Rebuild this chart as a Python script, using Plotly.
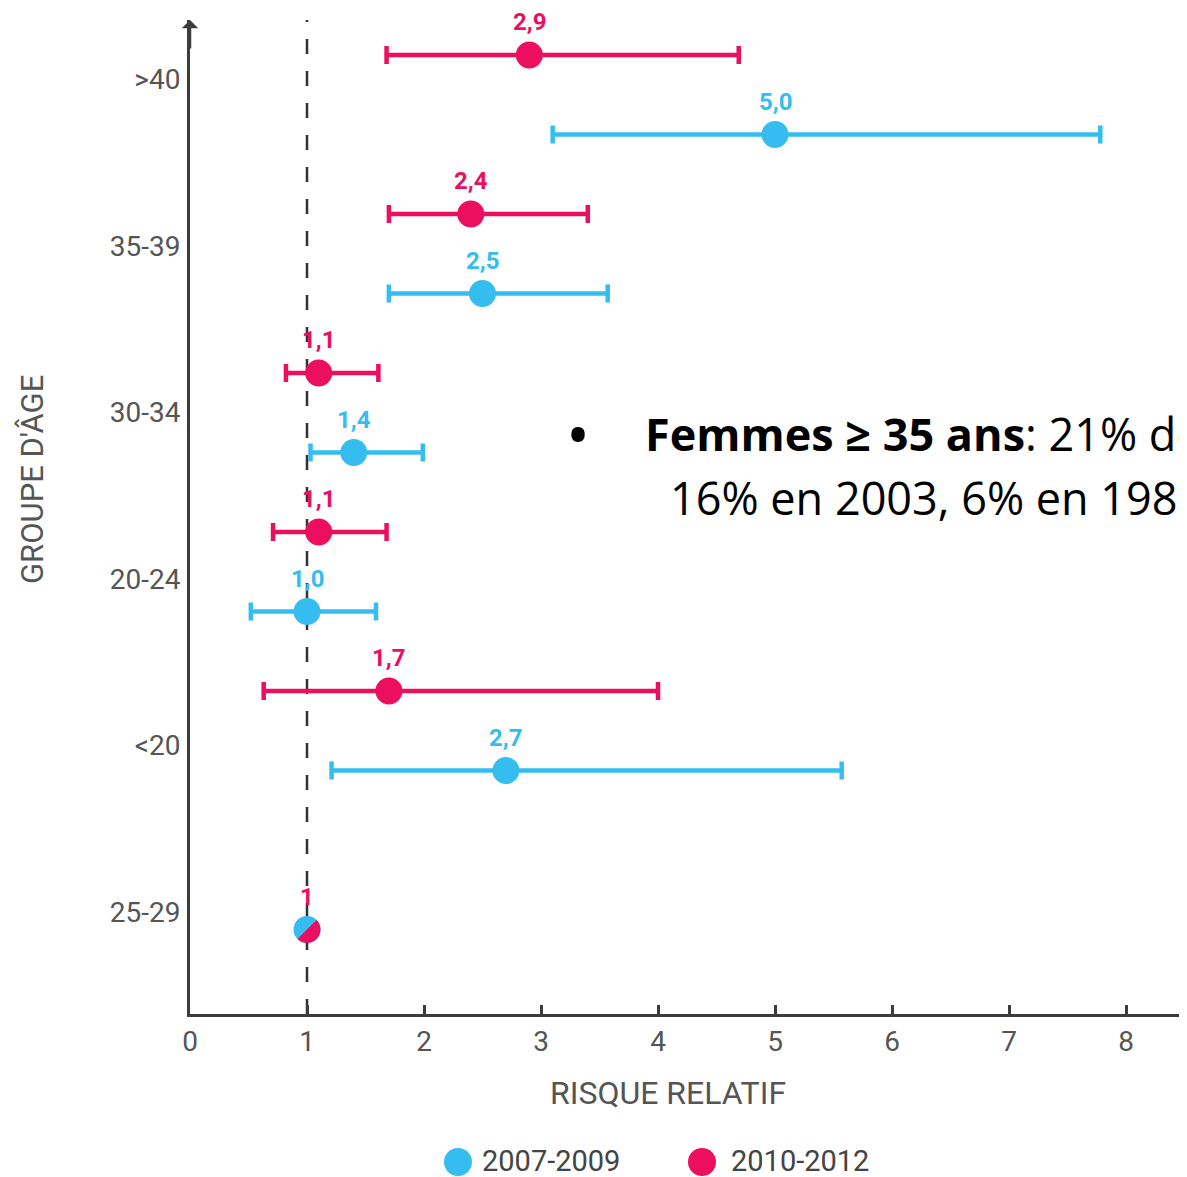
import math
import plotly.graph_objects as go

# ---------------- data ----------------
categories = [">40", "35-39", "30-34", "20-24", "<20", "25-29"]
# 2007-2009 (blue); last category is the reference (no interval)
blue_values = [5.0, 2.5, 1.4, 1.0, 2.7, 1.0]
blue_low = [3.1, 1.7, 1.03, 0.52, 1.21, None]
blue_high = [7.78, 3.57, 1.99, 1.59, 5.57, None]
# 2010-2012 (red)
red_values = [2.9, 2.4, 1.1, 1.1, 1.7, 1.0]
red_low = [1.68, 1.70, 0.82, 0.71, 0.63, None]
red_high = [4.69, 3.40, 1.61, 1.68, 4.0, None]
blue_labels = ["5,0", "2,5", "1,4", "1,0", "2,7", ""]
red_labels = ["2,9", "2,4", "1,1", "1,1", "1,7", "1"]
series_names = ["2007-2009", "2010-2012"]
x_ticks = [0, 1, 2, 3, 4, 5, 6, 7, 8]
ref_value = 1
bullet_line1 = "<b>Femmes ≥ 35 ans</b>: 21% de"
bullet_line2 = "16% en 2003, 6% en 198"

# ---------------- styles ----------------
BLUE = "#35BDF0"
RED = "#EC0E5F"
AXIS = "#3C3C3C"
GREY = "#555555"
COND = "Roboto, sans-serif"
TEXTFONT = "Open Sans, sans-serif"

OFF = 8  # page body margin
W, H = 1195, 1177
ML, MT = 190 - OFF, 20 - OFF
BOTTOM = 1014 - OFF
MR = 0
MB = H - BOTTOM
PW, PH = W - ML - MR, BOTTOM - MT
UNIT = 117.0
def px(xr):  # reference-image pixel x -> paper
    return (xr - OFF - ML) / PW
def py(yr):  # reference-image pixel y -> paper
    return (BOTTOM - (yr - OFF)) / PH

n = len(categories) - 1
red_rows = [2 * i for i in range(n)]
blue_rows = [2 * i + 1 for i in range(n)]
ref_row = 2 * n + 1
ROW = 79.5
ROW0 = 55 - OFF  # pixel of row 0 in figure

fig = go.Figure()

def add_series(vals, lows, highs, rows, color):
    fig.add_trace(go.Scatter(
        x=vals[:n], y=rows, mode="markers",
        marker=dict(size=27, color=color),
        error_x=dict(type="data", symmetric=False,
                     array=[h - v for h, v in zip(highs[:n], vals[:n])],
                     arrayminus=[v - l for l, v in zip(lows[:n], vals[:n])],
                     color=color, thickness=4.5, width=9),
        showlegend=False, hoverinfo="skip"))

add_series(blue_values, blue_low, blue_high, blue_rows, BLUE)
add_series(red_values, red_low, red_high, red_rows, RED)

# reference point (shared)
fig.add_trace(go.Scatter(x=[blue_values[-1]], y=[ref_row], mode="markers",
                         marker=dict(size=27, color=BLUE), showlegend=False, hoverinfo="skip"))

# red half of the reference marker (lower-right half, split along the diagonal)
r = 13.5
k = 0.5523
def pt(a):
    return (r * math.cos(math.radians(a)), r * math.sin(math.radians(a)))
def tang(a):
    return (-math.sin(math.radians(a)), math.cos(math.radians(a)))
angles = [-135, -45, 45]
x0, y0 = pt(angles[0])
path = f"M{x0:.2f},{y0:.2f}"
for a0, a1 in zip(angles[:-1], angles[1:]):
    p0 = pt(a0); p3 = pt(a1); t0 = tang(a0); t1 = tang(a1)
    p1 = (p0[0] + k * r * t0[0], p0[1] + k * r * t0[1])
    p2 = (p3[0] - k * r * t1[0], p3[1] - k * r * t1[1])
    path += f" C{p1[0]:.2f},{p1[1]:.2f} {p2[0]:.2f},{p2[1]:.2f} {p3[0]:.2f},{p3[1]:.2f}"
path += " Z"
fig.add_shape(type="path", xref="x", yref="y", xsizemode="pixel", ysizemode="pixel",
              xanchor=red_values[-1], yanchor=ref_row, path=path,
              fillcolor=RED, line=dict(width=0), layer="above")

# dashed reference line
fig.add_shape(type="line", xref="x", yref="paper", x0=ref_value, x1=ref_value, y0=0, y1=1.0,
              line=dict(color="#333333", width=2.5, dash="15px,17px"), layer="below")

# value labels
for vals, rows, labels, color in [(blue_values[:n], blue_rows, blue_labels[:n], BLUE),
                                  (red_values, red_rows + [ref_row], red_labels, RED)]:
    for v, rw, lab in zip(vals, rows, labels):
        if not lab:
            continue
        fig.add_annotation(x=v, y=rw, xref="x", yref="y", text=f"<b>{lab}</b>", showarrow=False,
                           xanchor="center", yanchor="middle",
                           yshift=33, font=dict(family=COND, size=24, color=color))

# y axis arrow
fig.add_annotation(x=0, y=1.0, xref="x", yref="paper", ax=0, ay=30, showarrow=True,
                   arrowhead=1, arrowsize=1.1, arrowwidth=2.5, arrowcolor=AXIS, text="")

# axis titles
fig.add_annotation(x=px(32), y=py(480), xref="paper", yref="paper", text="GROUPE D'ÂGE",
                   textangle=-90, showarrow=False, xanchor="center", yanchor="middle",
                   font=dict(family=COND, size=31, color=GREY))
fig.add_annotation(x=px(668), y=py(1093), xref="paper", yref="paper", text="RISQUE RELATIF",
                   showarrow=False, xanchor="center", yanchor="middle",
                   font=dict(family=COND, size=32, color=GREY))

# legend (manual)
for cx, tx, name, color in [(458, 480, series_names[0], BLUE), (702, 729, series_names[1], RED)]:
    fig.add_shape(type="circle", xref="paper", yref="paper", xsizemode="pixel", ysizemode="pixel",
                  xanchor=px(cx), yanchor=py(1162), x0=-14, x1=14, y0=-14, y1=14,
                  fillcolor=color, line=dict(width=0))
    fig.add_annotation(x=px(tx), y=py(1161), xref="paper", yref="paper", text=name, showarrow=False,
                       xanchor="left", yanchor="middle",
                       font=dict(family=COND, size=29, color="#444444"))

# overlay text box
fig.add_annotation(x=px(578), y=py(433), xref="paper", yref="paper", text="•", showarrow=False,
                   xanchor="center", yanchor="middle", font=dict(family=TEXTFONT, size=64, color="black"))
fig.add_annotation(x=px(643), y=py(433), xref="paper", yref="paper", text=bullet_line1, showarrow=False,
                   xanchor="left", yanchor="middle", font=dict(family=TEXTFONT, size=45, color="black"))
fig.add_annotation(x=px(668), y=py(497), xref="paper", yref="paper", text=bullet_line2, showarrow=False,
                   xanchor="left", yanchor="middle", font=dict(family=TEXTFONT, size=45, color="black"))

tick_rows = [0.31 + 2.094 * i for i in range(len(categories))]
fig.update_layout(
    width=W, height=H, margin=dict(l=ML, r=MR, t=MT, b=MB),
    paper_bgcolor="white", plot_bgcolor="white", showlegend=False,
    xaxis=dict(range=[0, PW / UNIT], tickvals=x_ticks, ticktext=[str(t) for t in x_ticks],
               showgrid=False, zeroline=False, showline=True, linecolor=AXIS, linewidth=3,
               ticks="inside", ticklen=9, tickwidth=2.5, tickcolor=AXIS,
               tickfont=dict(family=COND, size=28, color=GREY), ticklabelstandoff=0),
    yaxis=dict(range=[(BOTTOM - ROW0) / ROW, -(ROW0 - MT) / ROW],
               tickvals=tick_rows, ticktext=categories,
               showgrid=False, zeroline=False, showline=True, linecolor=AXIS, linewidth=3,
               ticks="", tickfont=dict(family=COND, size=28, color=GREY), ticklabelstandoff=1),
)

fig.write_html("out.html")
